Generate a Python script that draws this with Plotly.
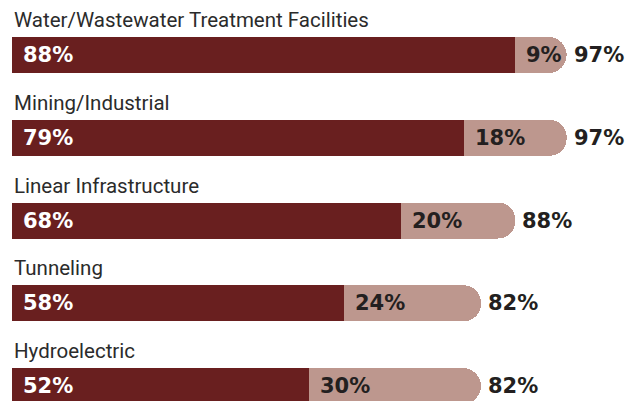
import plotly.graph_objects as go

categories = [
    "Water/Wastewater Treatment Facilities",
    "Mining/Industrial",
    "Linear Infrastructure",
    "Tunneling",
    "Hydroelectric",
]
primary = [88, 79, 68, 58, 52]
secondary = [9, 18, 20, 24, 30]
totals = [97, 97, 88, 82, 82]

DARK = "#691F1F"
LIGHT = "#BD978E"
LABEL_FONT = "Roboto, sans-serif"
VALUE_FONT = "DejaVu Sans, sans-serif"

y_pos = list(range(len(categories)))

fig = go.Figure()
fig.add_trace(go.Bar(
    y=y_pos, x=primary, orientation="h",
    marker=dict(color=DARK, line=dict(width=0)),
    width=0.435, hoverinfo="skip", name="primary"
))
fig.add_trace(go.Bar(
    y=y_pos, x=secondary, orientation="h",
    marker=dict(color=LIGHT, line=dict(width=0)),
    width=0.435, hoverinfo="skip", name="secondary"
))

annotations = []
for i, cat in enumerate(categories):
    # category label above bar
    annotations.append(dict(
        x=0, y=y_pos[i], xref="x", yref="y", text=cat,
        xanchor="left", yanchor="middle", yshift=35, showarrow=False,
        font=dict(family=LABEL_FONT, size=20.5, color="#2b2b2b")
    ))
    # dark segment value
    annotations.append(dict(
        x=0, y=y_pos[i], xref="x", yref="y", text=f"<b>{primary[i]}%</b>",
        xanchor="left", yanchor="middle", xshift=9, showarrow=False,
        font=dict(family=VALUE_FONT, size=21, color="white")
    ))
    # light segment value
    annotations.append(dict(
        x=primary[i], y=y_pos[i], xref="x", yref="y", text=f"<b>{secondary[i]}%</b>",
        xanchor="left", yanchor="middle", xshift=9, showarrow=False,
        font=dict(family=VALUE_FONT, size=21, color="#231F20")
    ))
    # total
    annotations.append(dict(
        x=totals[i], y=y_pos[i], xref="x", yref="y", text=f"<b>{totals[i]}%</b>",
        xanchor="left", yanchor="middle", xshift=5, showarrow=False,
        font=dict(family=VALUE_FONT, size=21, color="#231F20")
    ))

fig.update_layout(
    width=641, height=401,
    margin=dict(l=12, r=0, t=0, b=0),
    barmode="stack",
    barcornerradius="50%",
    showlegend=False,
    plot_bgcolor="white", paper_bgcolor="white",
    xaxis=dict(range=[0, 110], visible=False, fixedrange=True),
    yaxis=dict(range=[4.181, -0.665], visible=False, fixedrange=True),
    annotations=annotations,
)

fig.write_html(
    "out.html",
    config={"displayModeBar": False},
    post_script="document.body.style.margin='0';",
)
